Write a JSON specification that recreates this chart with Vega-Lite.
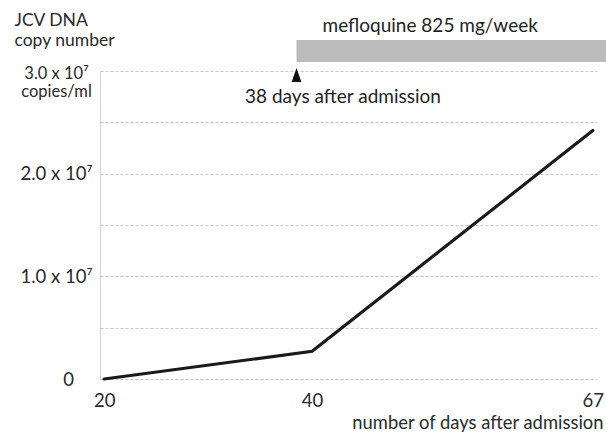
{
  "$schema": "https://vega.github.io/schema/vega-lite/v6.json",
  "width": 497,
  "height": 308,
  "autosize": "none",
  "padding": {"left": 100, "top": 71, "right": 9, "bottom": 54},
  "background": "white",
  "config": {
    "view": {"stroke": null},
    "font": "Lato",
    "text": {"font": "Lato"}
  },
  "datasets": {
    "series": [
      {"day": 20, "copies": 0},
      {"day": 40, "copies": 2700000},
      {"day": 67, "copies": 24200000}
    ],
    "treatment": [
      {"start": 38.5, "end": 68.3, "lo": 30880000, "hi": 33020000}
    ],
    "marker": [
      {"day": 38.5, "copies": 29600000}
    ],
    "notes": [
      {"day": 33.55, "copies": 27470000, "label": "38 days after admission"},
      {"day": 41.0, "copies": 34380000, "label": "mefloquine 825 mg/week"}
    ]
  },
  "layer": [
    {
      "data": {"name": "treatment"},
      "mark": {"type": "rect", "color": "#bcbcbc"},
      "encoding": {
        "x": {"field": "start", "type": "quantitative", "scale": {"domain": [19.6, 67.4], "nice": false, "zero": false}},
        "x2": {"field": "end"},
        "y": {"field": "lo", "type": "quantitative", "scale": {"domain": [0, 30000000], "nice": false}},
        "y2": {"field": "hi"}
      }
    },
    {
      "data": {"name": "series"},
      "mark": {"type": "line", "color": "#1a1a1a", "strokeWidth": 3.2, "strokeCap": "round"},
      "encoding": {
        "x": {
          "field": "day", "type": "quantitative",
          "scale": {"domain": [19.6, 67.4], "nice": false, "zero": false},
          "axis": {
            "values": [20, 40, 67],
            "grid": false,
            "ticks": false,
            "tickSize": 0,
            "domain": false,
            "labelFontSize": 18.5,
            "labelColor": "#2a2a2a",
            "labelPadding": 12,
            "labelFlush": false,
            "title": "number of days after admission",
            "titleFontSize": 18.4,
            "titleFontWeight": "normal",
            "titleColor": "#2a2a2a",
            "titleAnchor": "end",
            "titleAlign": "right",
            "titleBaseline": "middle",
            "titleX": 503,
            "titleY": 43
          }
        },
        "y": {
          "field": "copies", "type": "quantitative",
          "scale": {"domain": [0, 30000000], "nice": false},
          "axis": {
            "values": [0, 5000000, 10000000, 15000000, 20000000, 25000000, 30000000],
            "labelExpr": "datum.value == 0 ? '0' : datum.value == 30000000 ? ['3.0 x 10⁷', 'copies/ml'] : datum.value % 10000000 == 0 ? format(datum.value / 10000000, '.1f') + ' x 10⁷' : ''",
            "grid": true,
            "gridColor": "#c4c4c4",
            "gridDash": [3, 2],
            "gridWidth": 1,
            "ticks": false,
            "tickSize": 0,
            "domain": true,
            "domainColor": "#d0d0d0",
            "domainWidth": 1,
            "labelFontSize": {"condition": {"test": "datum.value == 30000000", "value": 16.5}, "value": 18.5},
            "labelColor": "#2a2a2a",
            "labelAlign": "center",
            "labelBaseline": "middle",
            "labelLineHeight": 18.5,
            "labelPadding": {"condition": {"test": "datum.value == 0", "value": 32}, "value": 44},
            "labelOffset": {"condition": {"test": "datum.value == 30000000", "value": 2}, "value": 0},
            "labelFlush": false,
            "labelOverlap": false,
            "title": ["JCV DNA", "copy number"],
            "titleFontSize": 17.5,
            "titleFontWeight": "normal",
            "titleColor": "#2a2a2a",
            "titleAngle": 0,
            "titleAlign": "left",
            "titleBaseline": "top",
            "titleLineHeight": 20,
            "titleX": -86,
            "titleY": -60
          }
        }
      }
    },
    {
      "data": {"name": "marker"},
      "mark": {"type": "point", "shape": "M0,-1L0.7,1L-0.7,1Z", "filled": true, "color": "#111111", "size": 196, "opacity": 1},
      "encoding": {
        "x": {"field": "day", "type": "quantitative", "scale": {"domain": [19.6, 67.4], "nice": false, "zero": false}},
        "y": {"field": "copies", "type": "quantitative", "scale": {"domain": [0, 30000000], "nice": false}}
      }
    },
    {
      "data": {"name": "notes"},
      "mark": {"type": "text", "fontSize": 19, "color": "#1e1e1e", "baseline": "middle", "align": "left"},
      "encoding": {
        "x": {"field": "day", "type": "quantitative", "scale": {"domain": [19.6, 67.4], "nice": false, "zero": false}},
        "y": {"field": "copies", "type": "quantitative", "scale": {"domain": [0, 30000000], "nice": false}},
        "text": {"field": "label"}
      }
    }
  ]
}
